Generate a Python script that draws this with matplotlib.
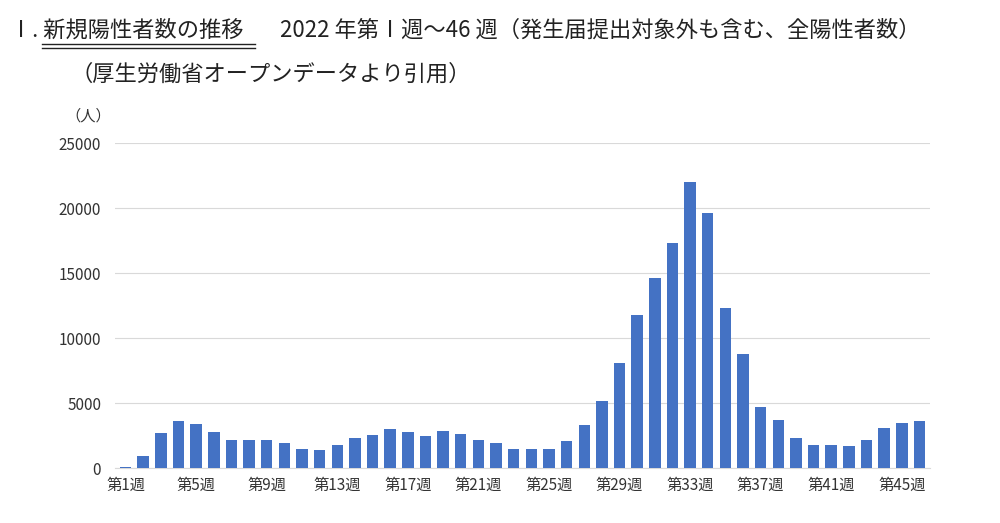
import matplotlib.pyplot as plt
import numpy as np

plt.rcParams['font.family'] = 'Noto Sans CJK JP'

weeks = [f'第{i}週' for i in range(1, 47)]
cases = [100, 900, 2700, 3600, 3400, 2800, 2200, 2150, 2150, 1950,
         1450, 1400, 1750, 2300, 2550, 3000, 2800, 2450, 2850, 2600,
         2200, 1950, 1450, 1450, 1500, 2100, 3350, 5200, 8100, 11800,
         14600, 17300, 22000, 19600, 12300, 8800, 4700, 3700, 2300, 1800,
         1750, 1700, 2200, 3100, 3450, 3600]
y_ticks = [0, 5000, 10000, 15000, 20000, 25000]

fig = plt.figure(figsize=(10, 5.23), dpi=100)
ax = fig.add_axes([0.115, 0.105, 0.815, 0.621])

x = np.arange(len(cases))
ax.bar(x, cases, width=0.65, color='#4472C4', zorder=3)
ax.set_xlim(-0.6, len(cases) - 0.4)
ax.set_ylim(0, 25000)
ax.set_yticks(y_ticks)
ax.set_yticklabels([str(v) for v in y_ticks], fontsize=11, color='#333333')
ax.set_xticks(x[::4])
ax.set_xticklabels(weeks[::4], fontsize=11, color='#333333')
ax.tick_params(length=0)
ax.tick_params(axis='y', pad=10)
ax.tick_params(axis='x', pad=6)
ax.grid(axis='y', color='#d9d9d9', linewidth=0.8, zorder=0)
for s in ['top', 'right', 'left']:
    ax.spines[s].set_visible(False)
ax.spines['bottom'].set_color('#d9d9d9')

fig.text(0.065, 0.77, '（人）', fontsize=11, color='#333333')

fig.text(0.01, 0.93, 'Ⅰ. 新規陽性者数の推移', fontsize=16, color='#222222')
fig.add_artist(plt.Line2D([0.042, 0.255], [0.916, 0.916], color='#222222', lw=1))
fig.add_artist(plt.Line2D([0.042, 0.255], [0.908, 0.908], color='#222222', lw=1))
fig.text(0.28, 0.93, '2022 年第Ⅰ週～46 週（発生届提出対象外も含む、全陽性者数）',
         fontsize=16, color='#222222')
fig.text(0.07, 0.845, '（厚生労働省オープンデータより引用）', fontsize=16, color='#222222')

fig.savefig('out.png', dpi=100)
